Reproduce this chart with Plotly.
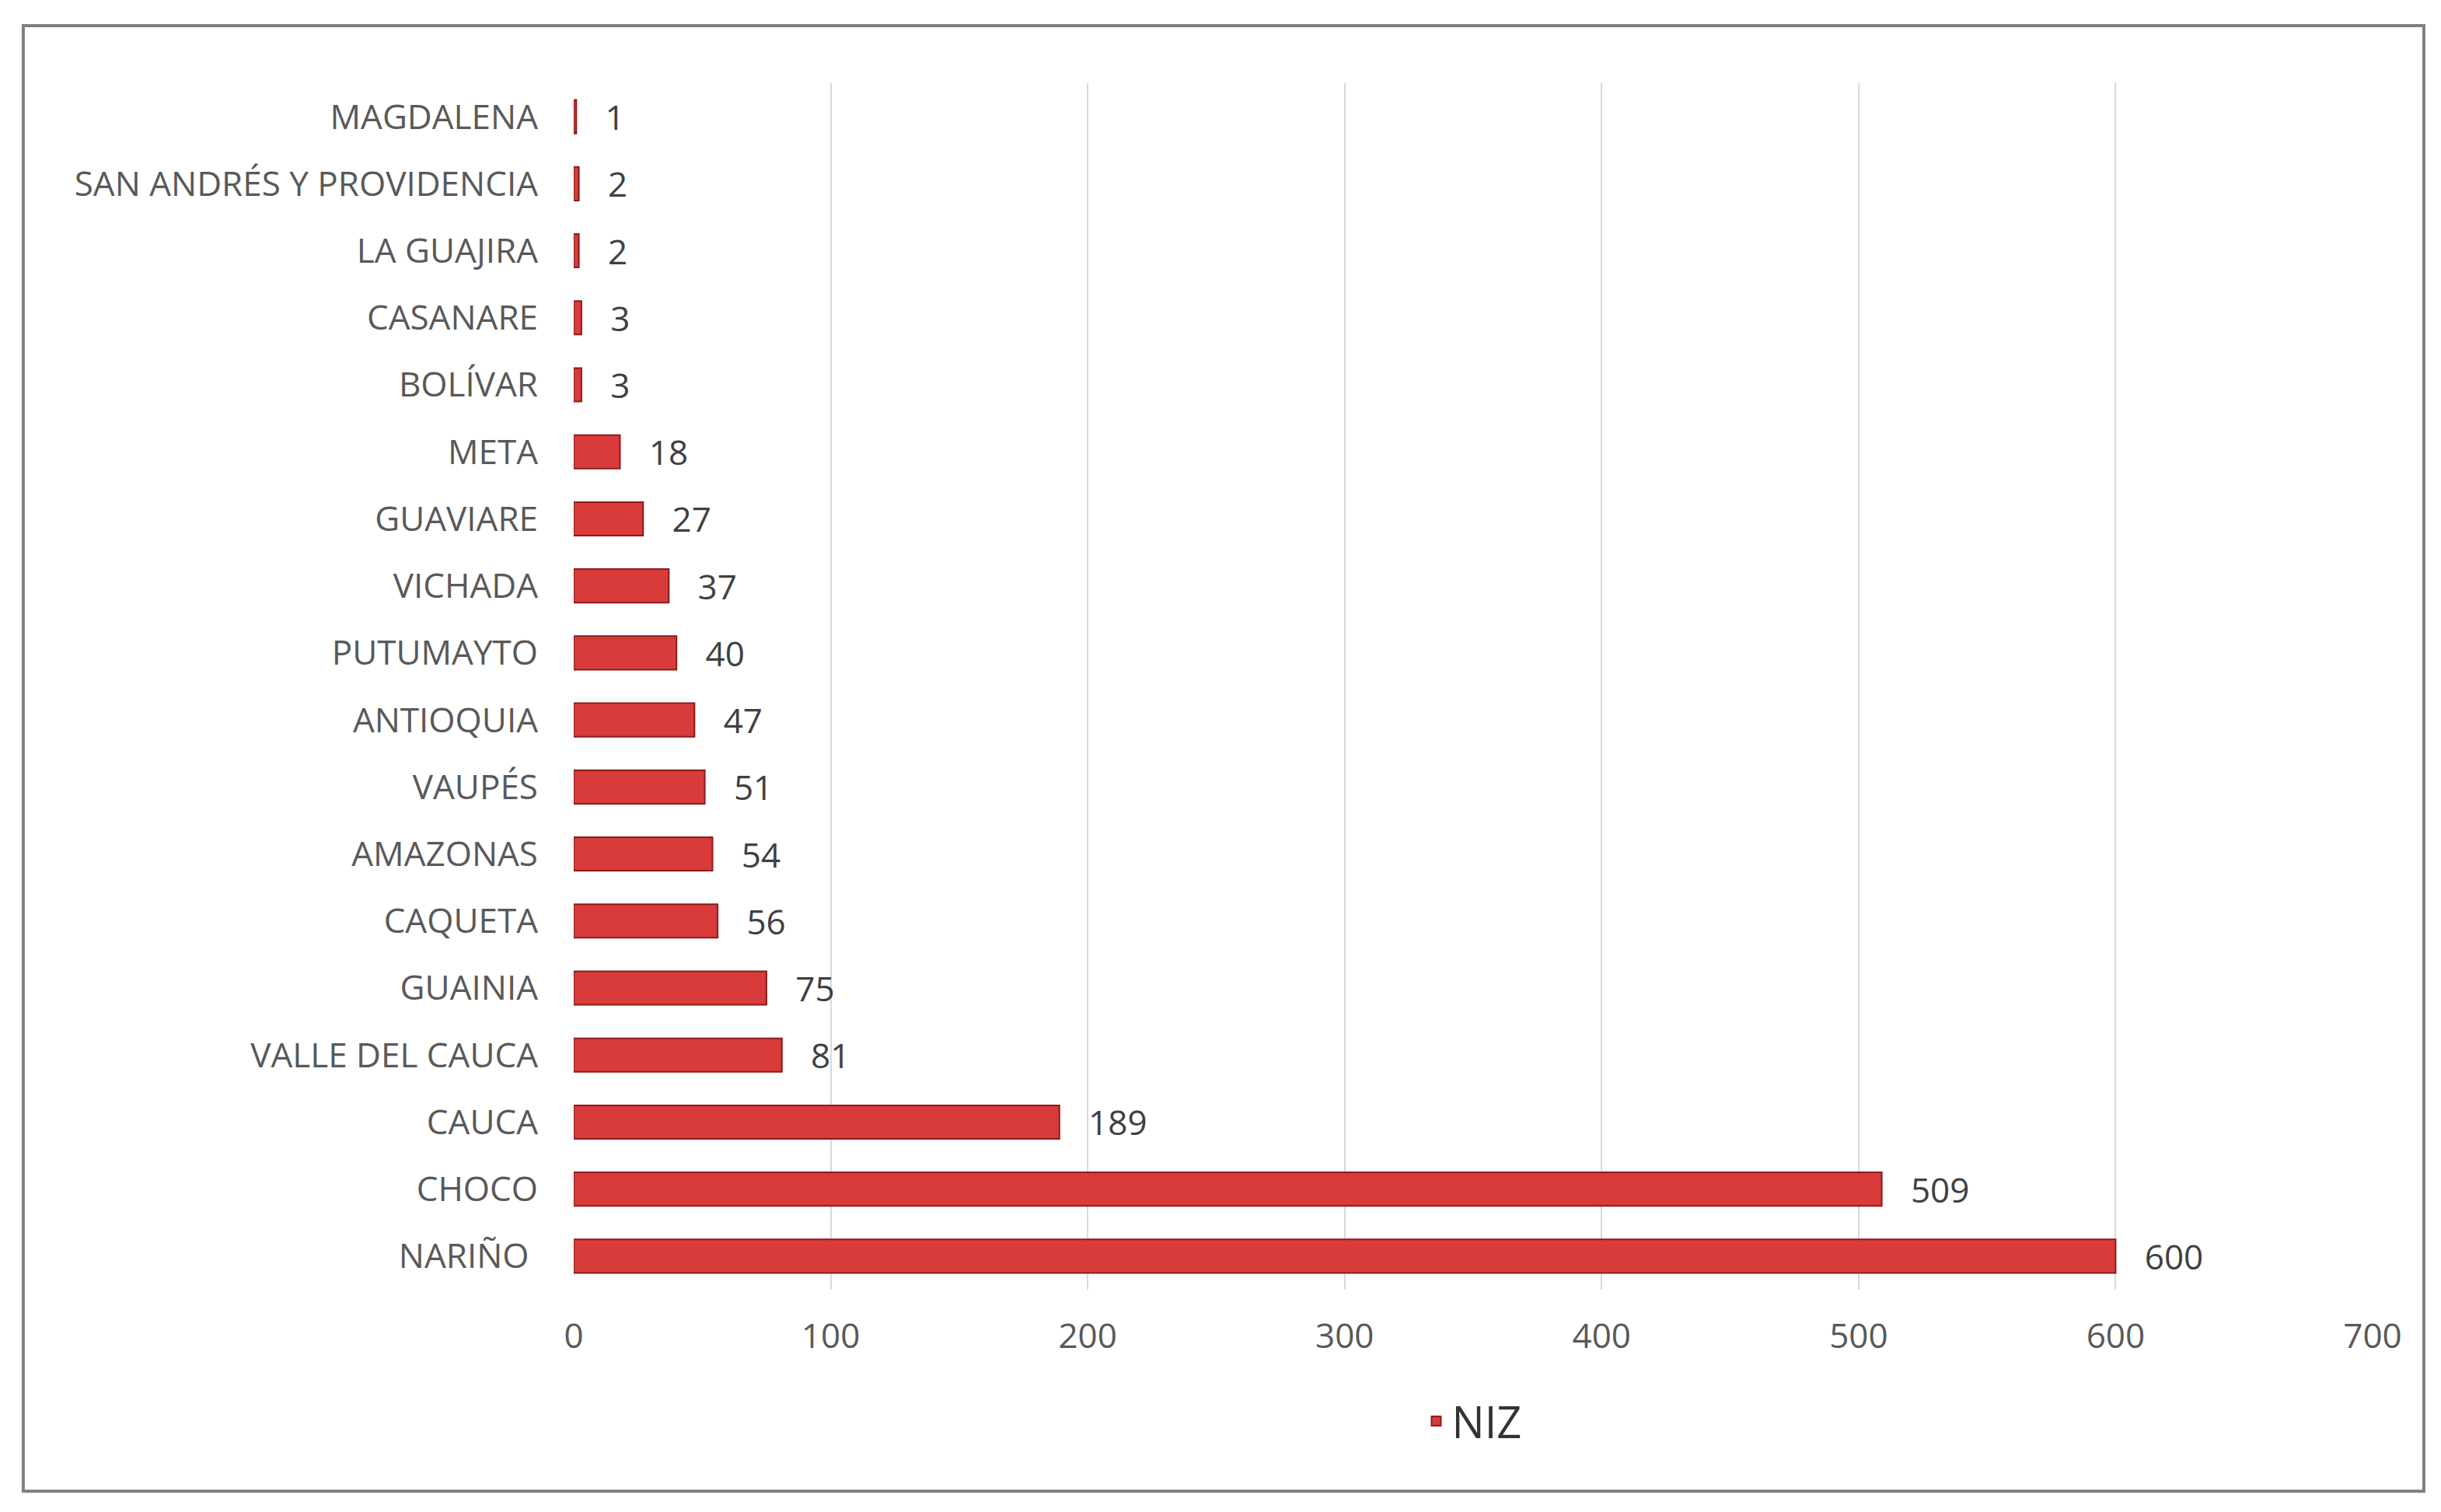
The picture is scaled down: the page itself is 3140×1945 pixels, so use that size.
import plotly.graph_objects as go

# departamentos (de abajo hacia arriba) y número de casos NIZ
departamentos = [
    "NARIÑO ", "CHOCO", "CAUCA", "VALLE DEL CAUCA", "GUAINIA", "CAQUETA",
    "AMAZONAS", "VAUPÉS", "ANTIOQUIA", "PUTUMAYTO", "VICHADA", "GUAVIARE",
    "META", "BOLÍVAR", "CASANARE", "LA GUAJIRA", "SAN ANDRÉS Y PROVIDENCIA",
    "MAGDALENA",
]
niz = [600, 509, 189, 81, 75, 56, 54, 51, 47, 40, 37, 27, 18, 3, 3, 2, 2, 1]
x_ticks = [0, 100, 200, 300, 400, 500, 600, 700]

fig = go.Figure()
fig.add_trace(go.Bar(
    y=departamentos, x=niz, orientation="h", name="NIZ",
    marker=dict(color="#d93a3a", line=dict(color="#8a1c1c", width=2)),
    text=["   " + str(v) for v in niz], textposition="outside",
    constraintext="none",
    textfont=dict(size=44, color="#404040"), cliponaxis=False,
))

fig.update_layout(
    width=3140, height=1945,
    paper_bgcolor="white", plot_bgcolor="white",
    margin=dict(l=730, r=96, t=99, b=294),
    bargap=0.5,
    font=dict(family="Open Sans, sans-serif", color="#595959", size=44),
    showlegend=True,
    legend=dict(orientation="h", x=0.5, xanchor="center", y=-0.109, yanchor="middle",
                font=dict(size=56, color="#333333")),
    xaxis=dict(range=[0, 700], tickvals=x_ticks, showgrid=True, gridcolor="#d9d9d9",
               gridwidth=2, zeroline=False, showline=False, ticks="",
               ticklabelstandoff=30,
               tickfont=dict(size=44, color="#595959")),
    yaxis=dict(showgrid=False, ticks="", ticklabelstandoff=45,
               tickfont=dict(size=44, color="#595959")),
    shapes=[dict(type="rect", xref="paper", yref="paper", layer="below",
                 x0=-0.306, x1=1.0285, y0=-0.167, y1=1.0477,
                 line=dict(color="#7f7f7f", width=4))],
)

fig.write_html("out.html")
